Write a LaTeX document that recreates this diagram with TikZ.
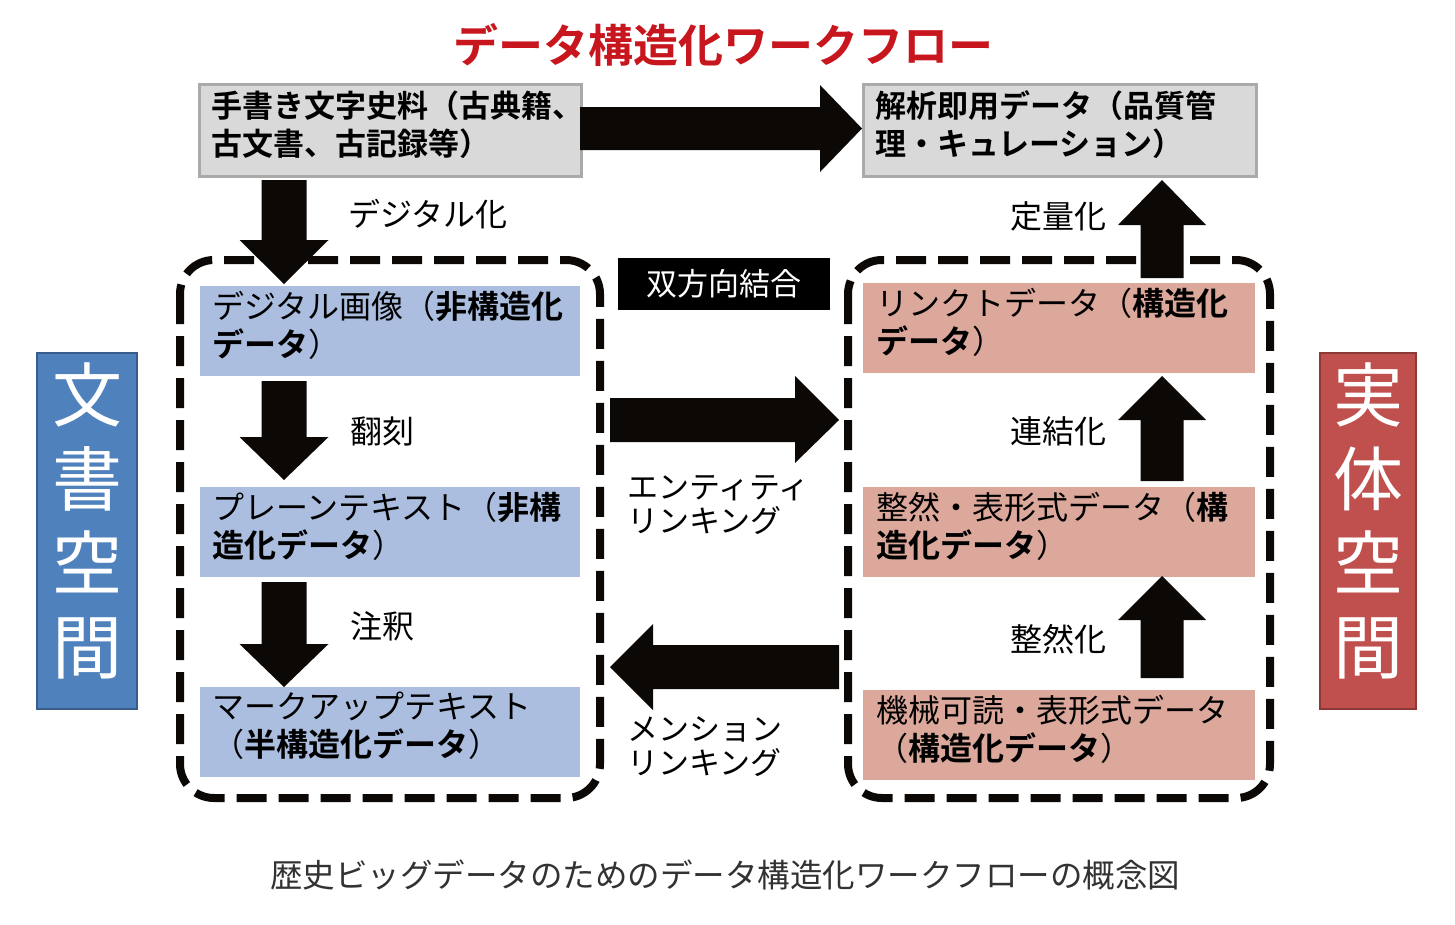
\documentclass[tikz,border=0pt]{standalone}
\usepackage{fontspec}
\setmainfont{Noto Sans CJK JP}[BoldFont={Noto Sans CJK JP Bold}]
\definecolor{titlered}{RGB}{200,22,30}
\definecolor{grayfill}{RGB}{217,217,217}
\definecolor{grayline}{RGB}{170,170,170}
\definecolor{bluefill}{RGB}{171,190,224}
\definecolor{pinkfill}{RGB}{220,168,155}
\definecolor{spaceblue}{RGB}{79,129,189}
\definecolor{spaceblueline}{RGB}{56,93,138}
\definecolor{spacered}{RGB}{192,80,77}
\definecolor{spaceredline}{RGB}{140,56,54}
\definecolor{arrowblack}{RGB}{12,8,6}
\definecolor{captiongray}{RGB}{50,50,50}
\newcommand{\darrow}[4]{\fill[blockarrow] ({#1-22.5},#2) -- ({#1+22.5},#2) -- ({#1+22.5},#3) -- ({#1+44.5},#3) -- (#1,#4) -- ({#1-44.5},#3) -- ({#1-22.5},#3) -- cycle;}
\newcommand{\uarrow}[4]{\fill[blockarrow] ({#1-21.5},#2) -- ({#1+21.5},#2) -- ({#1+21.5},#3) -- ({#1+44},#3) -- (#1,#4) -- ({#1-44},#3) -- ({#1-21.5},#3) -- cycle;}
\begin{document}
\begin{tikzpicture}[x=1pt,y=-1pt,
  blockarrow/.style={fill=arrowblack},
  dashbox/.style={draw=arrowblack, line width=8, dash pattern=on 30 off 12, rounded corners=34},
  graybox/.style={draw=grayline, line width=3, fill=grayfill, anchor=north west, inner sep=0,
    minimum width=382, minimum height=92},
  boxtext/.style={anchor=west, inner sep=0, align=left, xshift=13, yshift=6},
  bluebox/.style={fill=bluefill, anchor=north west, inner sep=0, minimum width=380, minimum height=90},
  pinkbox/.style={fill=pinkfill, anchor=north west, inner sep=0, minimum width=392, minimum height=90},
  bigtext/.style={font=\fontsize{31}{38}\selectfont\bfseries},
  midtext/.style={font=\fontsize{32}{38}\selectfont},
  lbl/.style={font=\fontsize{32}{34}\selectfont, inner sep=0},
  spacebox/.style={line width=2, anchor=north west, minimum width=100, minimum height=356, inner sep=0},
  spacetext/.style={text=white, align=center, inner sep=0, font=\fontsize{70}{84}\selectfont, yshift=10},
]
\useasboundingbox (0,0) rectangle (1455,924);

% title
\node[font=\fontsize{45}{50}\selectfont\bfseries, text=titlered] (title) at (723,45) {データ構造化ワークフロー};

% dashed groups
\draw[dashbox] (180,260) rectangle (600,798);
\draw[dashbox] (848,260) rectangle (1270,798);

% top boxes
\node[graybox] (src) at (198,83) {};
\node[boxtext, bigtext] (srct) at (src.west) {手書き文字史料（古典籍、\\古文書、古記録等）};
\node[graybox, minimum width=393] (ready) at (862,83) {};
\node[boxtext, bigtext] (readyt) at (ready.west) {解析即用データ（品質管\\理・キュレーション）};

% left column boxes
\node[bluebox] (img) at (200,286) {};
\node[boxtext, midtext, xshift=-1] (imgt) at (img.west) {デジタル画像（\textbf{非構造化}\\\textbf{データ}）};
\node[bluebox] (plain) at (200,487) {};
\node[boxtext, midtext, xshift=-1] (plaint) at (plain.west) {プレーンテキスト（\textbf{非構}\\\textbf{造化データ}）};
\node[bluebox] (markup) at (200,687) {};
\node[boxtext, midtext, xshift=-1] (markupt) at (markup.west) {マークアップテキスト\\（\textbf{半構造化データ}）};

% right column boxes
\node[pinkbox] (linked) at (863,283) {};
\node[boxtext, midtext] (linkedt) at (linked.west) {リンクトデータ（\textbf{構造化}\\\textbf{データ}）};
\node[pinkbox] (tidy) at (863,487) {};
\node[boxtext, midtext] (tidyt) at (tidy.west) {整然・表形式データ（\textbf{構}\\\textbf{造化データ}）};
\node[pinkbox] (machine) at (863,690) {};
\node[boxtext, midtext] (machinet) at (machine.west) {機械可読・表形式データ\\（\textbf{構造化データ}）};

% block arrows
\fill[blockarrow] (580,107) -- (820,107) -- (820,85) -- (862,128.5) -- (820,172) -- (820,150) -- (580,150) -- cycle;
\darrow{284}{180}{240}{284}
\darrow{284}{381}{437}{480}
\darrow{284}{582}{644}{687}
\uarrow{1162}{278}{225}{180}
\uarrow{1162}{481}{420}{376}
\uarrow{1162}{678}{620}{576}
\fill[blockarrow] (610,398) -- (795,398) -- (795,376) -- (839,420) -- (795,463) -- (795,442) -- (610,442) -- cycle;
\fill[blockarrow] (839,645) -- (653,645) -- (653,624) -- (610,667) -- (653,710) -- (653,689) -- (839,689) -- cycle;

% labels
\node[lbl, anchor=west] (digitize) at (348,214) {デジタル化};
\node[lbl, anchor=west] (transcribe) at (350,431) {翻刻};
\node[lbl, anchor=west] (annotate) at (350,626) {注釈};
\node[lbl, anchor=east] (quantify) at (1107,216) {定量化};
\node[lbl, anchor=east] (connect) at (1107,431) {連結化};
\node[lbl, anchor=east] (tidyup) at (1107,639) {整然化};
\node[lbl, anchor=west, align=left, font=\fontsize{31}{34}\selectfont] (entity) at (627,505) {エンティティ\\リンキング};
\node[lbl, anchor=west, align=left, font=\fontsize{31}{34}\selectfont] (mention) at (627,747) {メンション\\リンキング};

% bidirectional label
\node[fill=black, text=white, minimum width=212, minimum height=52, inner sep=0, font=\fontsize{31}{34}\selectfont] (bidir) at (724,284) {双方向結合};

% space boxes
\node[spacebox, draw=spaceblueline, fill=spaceblue] (docspace) at (36,352) {};
\node[spacetext] (docspacet) at (docspace.center) {文\\書\\空\\間};
\node[spacebox, draw=spaceredline, fill=spacered, minimum width=96] (entspace) at (1319,352) {};
\node[spacetext] (entspacet) at (entspace.center) {実\\体\\空\\間};

% caption
\node[font=\fontsize{32.5}{34}\selectfont, text=captiongray] (caption) at (725,875) {歴史ビッグデータのためのデータ構造化ワークフローの概念図};
\end{tikzpicture}
\end{document}
